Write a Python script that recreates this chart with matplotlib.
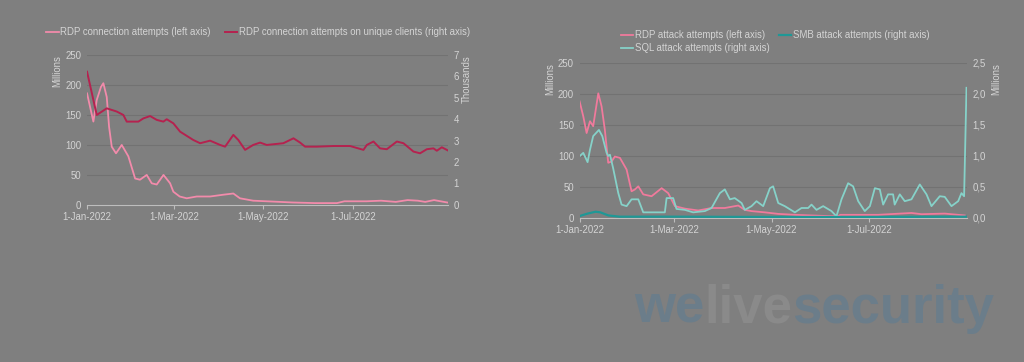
import numpy as np
import pandas as pd
import matplotlib
matplotlib.use("Agg")
import matplotlib.pyplot as plt
import matplotlib.dates as mdates
from matplotlib.ticker import FuncFormatter, MultipleLocator

plt.rcParams['font.family'] = ['Liberation Sans', 'DejaVu Sans']

START = pd.Timestamp('2022-01-01')

# ---- Left chart data (days since 1-Jan-2022) ----
rdp_conn_days = [0, 4.3, 6.6, 9.5, 11.1, 13.4, 15, 16.8, 19.7, 23.6, 28.1, 32.7, 36, 40.6, 44, 47.4,
                 52, 56.5, 58.7, 63, 67.8, 74.6, 83.7, 92.7, 99.5, 104, 113, 126.6, 140, 155, 170,
                 175, 190, 200, 210, 218, 225, 230, 236, 245]
rdp_conn_vals = [186, 139, 175, 197, 203, 180, 130, 97, 86, 100, 81, 44, 42, 50, 36, 34,
                 50, 36, 22, 14, 11, 14, 14, 17, 19, 11, 7, 5.5, 4, 3, 3,
                 6, 6, 7, 5, 8, 7, 5, 8, 4]

rdp_unique_days = [0, 6.6, 13.4, 20.2, 24.7, 27, 34.9, 38.3, 42.9, 47.4, 51.9, 54.2, 58.7, 63.3,
                   72.3, 76.9, 83.7, 90.5, 93.9, 99.5, 102.9, 107.5, 113, 117.7, 122.2, 133.5,
                   140.4, 144.9, 148.3, 156.2, 167.6, 178.9, 188, 190.3, 194.8, 199.3, 203.9,
                   210.7, 215.2, 222, 226.5, 231.1, 235.6, 237.9, 241.3, 245.8]
rdp_unique_vals = [6.22, 4.2, 4.51, 4.36, 4.2, 3.89, 3.89, 4.04, 4.15, 3.97, 3.89, 4.0, 3.81, 3.42,
                   3.03, 2.88, 3.0, 2.8, 2.72, 3.27, 3.03, 2.57, 2.8, 2.91, 2.8, 2.88,
                   3.11, 2.91, 2.72, 2.72, 2.75, 2.75, 2.57, 2.8, 2.96, 2.64, 2.6,
                   2.96, 2.88, 2.49, 2.41, 2.6, 2.64, 2.53, 2.69, 2.53]

# ---- Right chart data ----
rdp_att_days = [0, 2.3, 4.4, 6.5, 8.5, 11.7, 13.75, 15.8, 17.9, 20, 22, 25.2, 29.4, 32.5, 34.6,
                36.7, 39.8, 45, 51.3, 55.4, 59.6, 65.8, 74.2, 82.5, 90.8, 99.2, 103.3, 107.5,
                115.8, 124.2, 134.6, 145, 155.4, 161.7, 163, 165.8, 186.7, 207.5, 213.8, 228.3, 240.8]
rdp_att_vals = [188, 164, 137, 156, 148, 201, 180, 142, 89, 91, 99, 97, 78, 43, 46,
                51, 38, 35, 48, 40, 19, 15, 12, 16, 16, 20, 13, 11,
                9, 6.5, 5, 4, 3, 3, 5, 5, 5, 8, 6, 7, 4]

smb_days = [0, 5, 10, 13, 18, 25, 60, 120, 180, 241.9]
smb_vals = [0.03, 0.07, 0.10, 0.09, 0.04, 0.02, 0.02, 0.015, 0.015, 0.02]

sql_days = [0, 2.3, 5, 6.5, 8.5, 12.1, 14.2, 16.9, 17.9, 19, 21, 24.2, 26.25, 29.4, 32.5, 36.7,
            39.8, 53.3, 54.4, 58.5, 60.6, 65.8, 71, 78.3, 82.5, 87.7, 90.8, 94, 97, 101.3,
            103.3, 107.5, 110.6, 114.8, 119, 121, 124.2, 128.3, 134.6, 138.75, 142.9, 145,
            148.1, 152.3, 157.5, 160.6, 163.75, 167.9, 171, 174.2, 178.3, 181.5, 184.6, 187.7,
            189.8, 192.9, 196, 197, 200.2, 203.3, 207.5, 212.7, 216.9, 220, 225.2, 228.3,
            232.5, 236.7, 238.75, 240.4, 241.9]
sql_vals = [0.995, 1.05, 0.9, 1.1, 1.32, 1.42, 1.32, 1.05, 1.0, 1.02, 0.8, 0.4, 0.215, 0.19, 0.3, 0.3,
            0.09, 0.09, 0.32, 0.32, 0.145, 0.13, 0.09, 0.11, 0.16, 0.4, 0.46, 0.3, 0.32, 0.24,
            0.13, 0.19, 0.27, 0.19, 0.48, 0.51, 0.24, 0.19, 0.09, 0.16, 0.16, 0.215,
            0.13, 0.19, 0.11, 0.027, 0.3, 0.56, 0.51, 0.27, 0.11, 0.19, 0.48, 0.46,
            0.215, 0.38, 0.38, 0.215, 0.38, 0.27, 0.3, 0.54, 0.38, 0.19, 0.35, 0.34,
            0.19, 0.27, 0.4, 0.35, 2.1]

date_ticks = ['2022-01-01', '2022-03-01', '2022-05-01', '2022-07-01']


def to_dates(days):
    return START + pd.to_timedelta(np.array(days, dtype=float), unit='D')


BG = '#7f7f7f'
TXT = '#d4d4d4'
GRID = '#727272'
AXL = '#bdbdbd'
FS = 6.9

fig = plt.figure(figsize=(10.24, 3.62), dpi=100, facecolor=BG)


def style(ax, ax2, xmax_day):
    for a in (ax, ax2):
        a.set_facecolor('none')
        for s in ('top', 'right', 'left', 'bottom'):
            a.spines[s].set_visible(False)
        a.tick_params(colors=TXT, labelsize=FS, length=0, pad=4)
    ax.spines['bottom'].set_visible(True)
    ax.spines['bottom'].set_color(AXL)
    ax.spines['bottom'].set_linewidth(0.8)
    ax.grid(axis='y', color=GRID, lw=0.8)
    ax.set_axisbelow(True)
    ax.set_xlim(START, START + pd.Timedelta(days=xmax_day))
    ax.set_xticks(pd.to_datetime(date_ticks))
    ax.xaxis.set_major_formatter(FuncFormatter(
        lambda x, p: (lambda d: f"{d.day}-{d.strftime('%b-%Y')}")(mdates.num2date(x))))
    ax.tick_params(axis='x', length=3, color=AXL, pad=2)


# ---------- Left chart ----------
axL = fig.add_axes([0.085, 0.434, 0.3525, 0.414])
axL2 = axL.twinx()
l1, = axL.plot(to_dates(rdp_conn_days), rdp_conn_vals, color='#f28bab', lw=1.3,
               label='RDP connection attempts (left axis)')
l2, = axL2.plot(to_dates(rdp_unique_days), rdp_unique_vals, color='#b5224f', lw=1.4,
                label='RDP connection attempts on unique clients (right axis)')
axL.set_ylim(0, 250)
axL.yaxis.set_major_locator(MultipleLocator(50))
axL2.set_ylim(0, 7)
axL2.yaxis.set_major_locator(MultipleLocator(1))
style(axL, axL2, 245.5)
axL.set_ylabel('Millions', color=TXT, fontsize=FS, loc='top', labelpad=2)
axL2.set_ylabel('Thousands', color=TXT, fontsize=FS, loc='top', labelpad=2, rotation=90)
fig.legend(handles=[l1, l2], loc='center', bbox_to_anchor=(0.252, 0.912), ncol=2,
           frameon=False, fontsize=FS, labelcolor=TXT, handlelength=1.3, handletextpad=0.15,
           columnspacing=1.5, borderpad=0)

# ---------- Right chart ----------
axR = fig.add_axes([0.566, 0.398, 0.378, 0.428])
axR2 = axR.twinx()
r1, = axR.plot(to_dates(rdp_att_days), rdp_att_vals, color='#f07a9c', lw=1.3,
               label='RDP attack attempts (left axis)')
r3, = axR2.plot(to_dates(sql_days), sql_vals, color='#86d2c9', lw=1.3,
                label='SQL attack attempts (right axis)')
r2, = axR2.plot(to_dates(smb_days), smb_vals, color='#1f9896', lw=1.6,
                label='SMB attack attempts (right axis)')
axR.set_ylim(0, 250)
axR.yaxis.set_major_locator(MultipleLocator(50))
axR2.set_ylim(0, 2.5)
axR2.yaxis.set_major_locator(MultipleLocator(0.5))
axR2.yaxis.set_major_formatter(FuncFormatter(lambda v, p: f"{v:.1f}".replace('.', ',')))
style(axR, axR2, 242)
axR.set_ylabel('Millions', color=TXT, fontsize=FS, loc='top', labelpad=2)
axR2.set_ylabel('Millions', color=TXT, fontsize=FS, loc='top', labelpad=4, rotation=90)
fig.legend(handles=[r1, r3, r2], loc='center', bbox_to_anchor=(0.757, 0.885), ncol=2,
           frameon=False, fontsize=FS, labelcolor=TXT, handlelength=1.3, handletextpad=0.15,
           columnspacing=1.0, borderpad=0, labelspacing=0.35)

# ---------- Watermark ----------
wm_kw = dict(fontsize=38, fontweight='bold', family='Liberation Sans')
WM_BLUE = '#6b7d8a'
WM_GREY = '#8a8a8a'
t1 = fig.text(0.619, 0.108, 'we', color=WM_BLUE, va='baseline', ha='left', **wm_kw)
t2 = fig.text(0, 0, 'live', color=WM_GREY, va='baseline', ha='left', **wm_kw)
t3 = fig.text(0, 0, 'security', color=WM_BLUE, va='baseline', ha='left', **wm_kw)
fig.canvas.draw()
r = fig.canvas.get_renderer()
inv = fig.transFigure.inverted()
bb1 = t1.get_window_extent(r)
t2.set_position((inv.transform((bb1.x1, 0))[0], 0.108))
fig.canvas.draw()
bb2 = t2.get_window_extent(r)
t3.set_position((inv.transform((bb2.x1, 0))[0], 0.108))

fig.savefig('out.png', dpi=100, facecolor=BG)
